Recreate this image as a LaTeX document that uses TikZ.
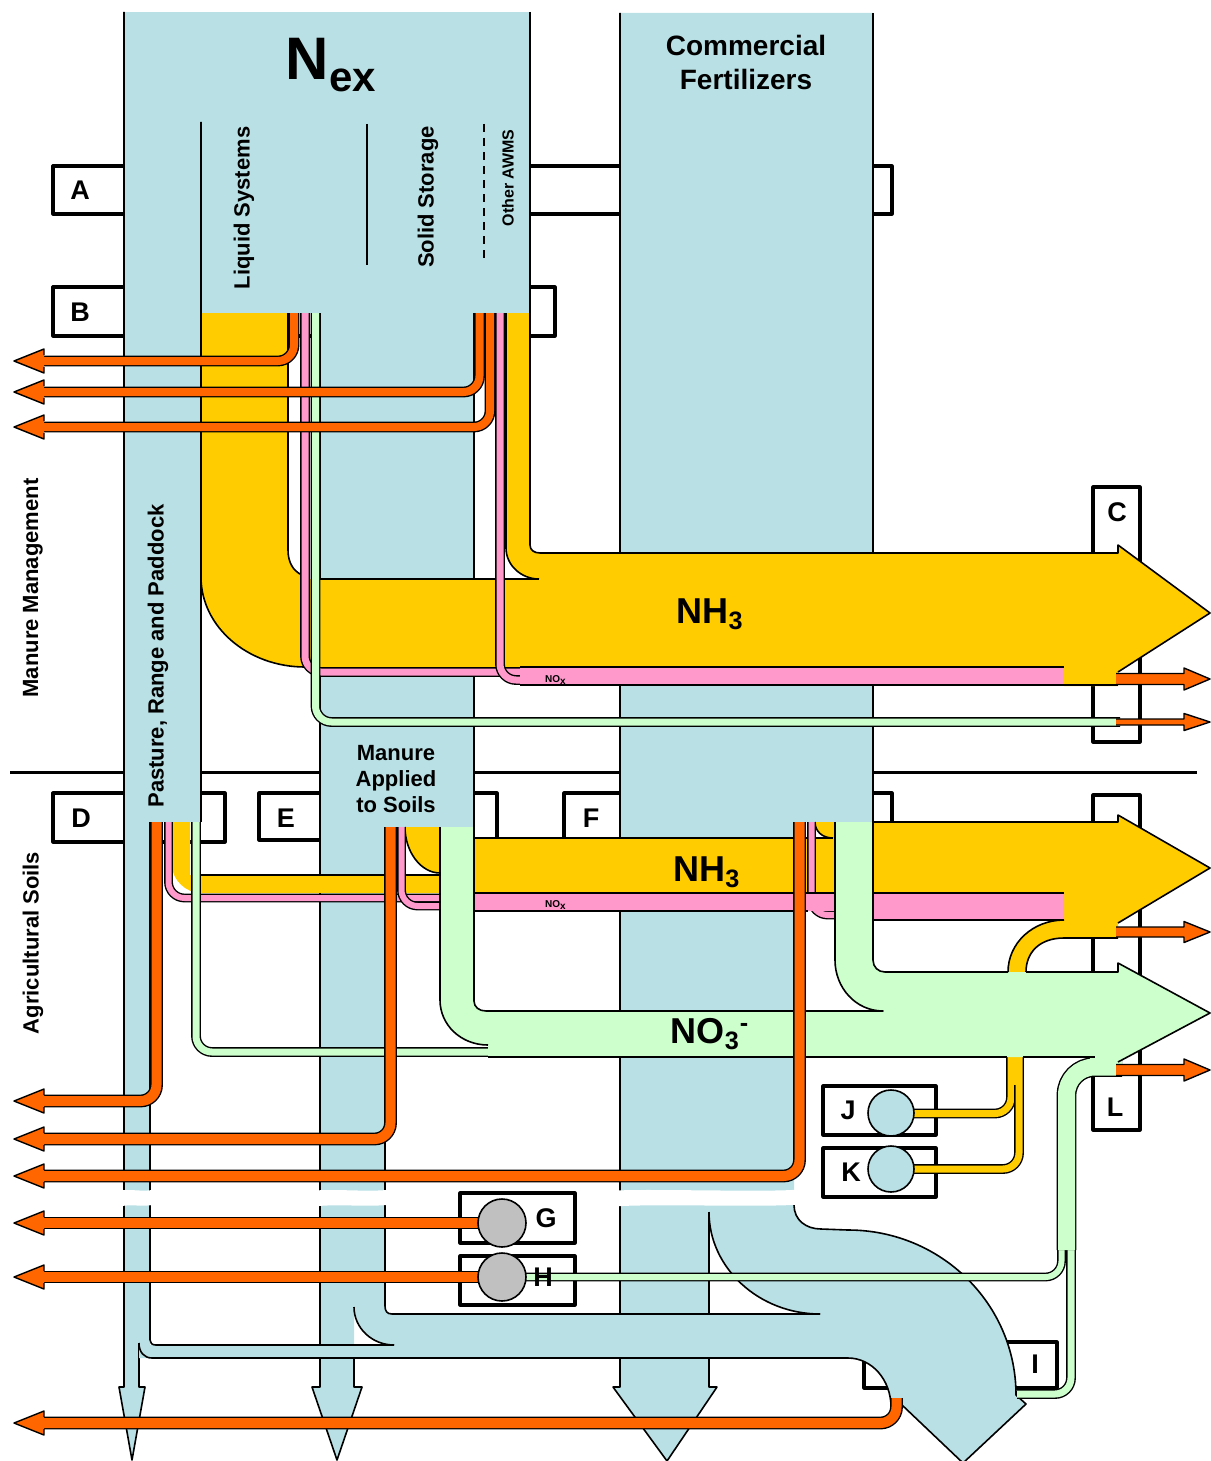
\documentclass[tikz,border=0pt]{standalone}
\usepackage{fontspec}
\setmainfont{Liberation Sans}
\definecolor{poolblue}{RGB}{185,224,228}
\definecolor{nhyellow}{RGB}{255,204,0}
\definecolor{lossorange}{RGB}{255,102,0}
\definecolor{noxpink}{RGB}{255,153,204}
\definecolor{nogreen}{RGB}{204,255,204}
\definecolor{valvegray}{RGB}{192,192,192}
\tikzset{
  tagbox/.style={draw=black, line width=1.6pt, fill=white},
  rim/.style={draw=black, line width=0.8pt},
  pipe/.style={draw=black, line width=0.7pt, double=#1, rounded corners=8pt},
  tagtext/.style={font=\fontsize{13.5pt}{15pt}\selectfont\bfseries},
  sidetext/.style={rotate=90, font=\fontsize{11pt}{13pt}\selectfont\bfseries},
  tiptext/.style={font=\fontsize{5pt}{6pt}\selectfont\bfseries},
  gasname/.style={font=\fontsize{18pt}{20pt}\selectfont\bfseries},
  headl/.style={fill=lossorange, draw=black, line width=0.7pt},
}
\begin{document}
\begin{tikzpicture}[x=0.5pt, y=-0.5pt, line join=round]
    \useasboundingbox (0,0) rectangle (1210,1461);
    \draw[line width=1.5pt] (10,772) -- (1197,772);

    \draw[tagbox] (53,166) rectangle (892,214);
    \draw[tagbox] (53,287) rectangle (555,336);
    \draw[tagbox] (1093,487) rectangle (1140,742);
    \draw[tagbox] (53,793) rectangle (225,842);
    \draw[tagbox] (259,793) rectangle (497,840);
    \draw[tagbox] (564,793) rectangle (892,839);
    \draw[tagbox] (1093,795) rectangle (1140,1130);
    \draw[tagbox] (864,1342) rectangle (1057,1388);
    \draw[tagbox] (460,1193) rectangle (575,1243);
    \draw[tagbox] (460,1256) rectangle (575,1305);
    \draw[tagbox] (823,1086) rectangle (936,1135);
    \draw[tagbox] (823,1148) rectangle (936,1197);

    \fill[poolblue] (124,12) rectangle (530,313);
    \fill[poolblue] (124,313) rectangle (201,822);
    \fill[poolblue] (124,822) -- (150,822) -- (150,1345) -- (139,1345) -- (139,1387) -- (145,1387) -- (132,1460) -- (119,1387) -- (124,1387) -- cycle;
    \fill[poolblue] (320,313) rectangle (474,827);
    \fill[poolblue] (320,827) -- (385,827) -- (385,1314) -- (354,1314) -- (354,1387) -- (362,1387) -- (337,1460) -- (312,1387) -- (320,1387) -- cycle;
    \fill[poolblue] (620,13) -- (873,13) -- (873,822) -- (794,822) -- (794,1205) -- (709,1205) -- (709,1387) -- (717,1387) -- (667,1461) -- (613,1387) -- (620,1387) -- cycle;

    \draw[rim] (124,12) -- (124,1387) -- (119,1387) -- (132,1460) -- (145,1387) -- (139,1387) -- (139,1343);
    \draw[rim] (201,122) -- (201,822);
    \draw[rim] (530,12) -- (530,313);
    \draw[rim] (150,822) -- (150,1340);
    \draw[rim] (320,313) -- (320,1387) -- (312,1387) -- (337,1460) -- (362,1387) -- (354,1387) -- (354,1358);
    \draw[rim] (474,313) -- (474,827);
    \draw[rim] (385,827) -- (385,1306);
    \draw[rim] (620,13) -- (620,1387) -- (613,1387) -- (667,1461) -- (717,1387) -- (709,1387) -- (709,1358);
    \draw[rim] (709,1212) -- (709,1314);
    \draw[rim] (873,13) -- (873,822);
    \draw[rim] (367,124) -- (367,265);
    \draw[rim, dash pattern=on 4pt off 3pt] (484,124) -- (484,262);

    \fill[poolblue] (139,1345) -- (394,1345) .. controls (372,1345) and (354,1328) .. (354,1307) -- (354,1300) -- (385,1300) -- (385,1306) .. controls (385,1311) and (387,1314) .. (392,1314) -- (820,1314) .. controls (759,1314) and (709,1268) .. (709,1212) -- (709,1205) -- (794,1205) .. controls (794,1220) and (806,1229) .. (821,1229) -- (848,1230) .. controls (941,1230) and (1016,1304) .. (1016,1395) -- (1026,1404) -- (963,1463) -- (902,1405) -- (891,1407) .. controls (891,1380) and (872,1358) .. (848,1358) -- (139,1358) -- cycle;
    \draw[rim] (150,1340) .. controls (150,1343) and (152,1345) .. (156,1345) -- (394,1345);
    \draw[rim] (354,1307) .. controls (354,1328) and (372,1345) .. (394,1345);
    \draw[rim] (385,1300) -- (385,1306) .. controls (385,1311) and (387,1314) .. (392,1314) -- (820,1314);
    \draw[rim] (709,1212) .. controls (709,1268) and (759,1314) .. (820,1314);
    \draw[rim] (794,1205) .. controls (794,1220) and (806,1229) .. (821,1229) -- (848,1230) .. controls (941,1230) and (1016,1304) .. (1016,1395) -- (1026,1404) -- (963,1463) -- (902,1405);
    \draw[rim] (891,1407) .. controls (891,1380) and (872,1358) .. (848,1358) -- (152,1358) .. controls (144,1358) and (139,1352) .. (139,1343);

    \foreach \a/\b in {117/157, 313/392, 613/801}
        \fill[white] (\a,1191) .. controls (\a+15,1188) and (\b-15,1193) .. (\b,1189) -- (\b,1204) .. controls (\b-15,1208) and (\a+15,1203) .. (\a,1207) -- cycle;

    \fill[nhyellow] (201,313) -- (288,313) -- (288,550) .. controls (288,562) and (293,571) .. (302,575) -- (302,579) -- (539,579) .. controls (521,579) and (506,565) .. (506,548) -- (506,313) -- (530,313) -- (530,545) .. controls (530,550) and (534,553) .. (540,553) -- (1118,553) -- (1118,545) -- (1210,613) -- (1118,672) -- (1118,686) -- (1064,686) -- (1064,667) -- (305,667) .. controls (248,667) and (201,627) .. (201,577) -- cycle;
    \draw[rim] (201,122) -- (201,577) .. controls (201,627) and (248,667) .. (305,667);
    \draw[rim] (288,313) -- (288,550) .. controls (288,562) and (293,571) .. (302,575);
    \draw[rim] (320,579) -- (539,579);
    \draw[rim] (506,313) -- (506,548) .. controls (506,565) and (521,579) .. (539,579);
    \draw[rim] (530,313) -- (530,545) .. controls (530,550) and (534,553) .. (540,553) -- (1118,553) -- (1118,545) -- (1210,613) -- (1118,672);

    \draw[pipe=noxpink, double distance=3.5pt] (305,313) -- (305,672) -- (530,672);
    \draw[pipe=noxpink, double distance=3.5pt] (500,313) -- (500,680) -- (530,680);
    \fill[noxpink] (520,667) rectangle (1064,685);
    \draw[rim] (520,667) -- (1064,667);
    \draw[rim] (520,685) -- (1118,685);
    \draw[pipe=nogreen, double distance=3.5pt] (315.5,313) -- (315.5,722) -- (1120,722);

    \draw[pipe=lossorange, double distance=4pt] (294,313) -- (294,361) -- (44,361);
    \draw[pipe=lossorange, double distance=4pt] (479.5,313) -- (479.5,392) -- (44,392);
    \draw[pipe=lossorange, double distance=4pt] (490,313) -- (490,427) -- (44,427);

    \fill[nhyellow] (172,822) -- (190,822) -- (190,875) -- (440,875) -- (440,873) .. controls (421,873) and (405,852) .. (405,827) -- (440,827) -- (440,838) -- (833,838) .. controls (822,838) and (815,831) .. (815,822) -- (1118,822) -- (1118,815) -- (1210,868) -- (1118,923) -- (1118,938) -- (1064,938) .. controls (1040,938) and (1026,952) .. (1026,975) -- (1008,975) .. controls (1008,943) and (1033,920) .. (1064,920) -- (1064,893) -- (201,893) .. controls (186,893) and (172,880) .. (172,865) -- cycle;
    \draw[rim] (201,875) -- (440,875);
    \draw[rim] (405,827) .. controls (405,852) and (421,873) .. (440,873);
    \draw[rim] (474,838) -- (833,838);
    \draw[rim] (815,822) .. controls (815,831) and (822,838) .. (833,838);
    \draw[rim] (873,822) -- (1118,822) -- (1118,815) -- (1210,868) -- (1118,923);
    \draw[rim] (1064,920) .. controls (1033,920) and (1008,943) .. (1008,972);
    \draw[rim] (1026,972) .. controls (1026,952) and (1040,938) .. (1064,938) -- (1118,938);

    \draw[pipe=noxpink, double distance=3pt] (168.5,822) -- (168.5,898) -- (460,898);
    \draw[pipe=noxpink, double distance=3pt] (401.5,827) -- (401.5,906) -- (460,906);
    \draw[pipe=noxpink, double distance=3pt] (811.5,822) -- (811.5,915) -- (860,915);
    \fill[noxpink] (440,893) -- (1064,893) -- (1064,920) -- (850,920) -- (850,911) -- (440,911) -- cycle;
    \draw[rim] (440,893) -- (1064,893);
    \draw[rim] (440,911) -- (808,911);
    \draw[rim] (850,920) -- (1064,920);

    \draw[pipe=nhyellow, double distance=3.5pt] (900,1113.5) -- (1011,1113.5) -- (1011,1052);
    \draw[pipe=nhyellow, double distance=3.5pt] (900,1169) -- (1019,1169) -- (1019,1052);
    \fill[nhyellow] (1008.5,1052) rectangle (1021.5,1085);

    \draw[pipe=nogreen, double distance=3.5pt] (1017,1394) -- (1071,1394) -- (1071,1248);
    \draw[pipe=nogreen, double distance=3pt] (520,1277) -- (1061.5,1277) -- (1061.5,1248);
    \draw[pipe=nogreen, double distance=8.5pt, rounded corners=14pt] (1066.5,1250) -- (1066.5,1067) -- (1122,1067);
    \draw[pipe=nogreen, double distance=3.5pt] (196,822) -- (196,1052) -- (495,1052);

    \fill[nogreen] (440,827) -- (474,827) -- (474,1001) .. controls (474,1007) and (479,1011) .. (486,1011) -- (883,1011) .. controls (856,1011) and (835,988) .. (835,960) -- (835,822) -- (873,822) -- (873,960) .. controls (873,967) and (878,972) .. (885,972) -- (1118,972) -- (1118,963) -- (1210,1013) -- (1118,1062) -- (1118,1066) -- (1090,1066) -- (1090,1057) -- (488,1057) -- (488,1045) .. controls (461,1045) and (440,1025) .. (440,1000) -- cycle;
    \draw[rim] (440,827) -- (440,1000) .. controls (440,1025) and (461,1045) .. (488,1045);
    \draw[rim] (474,827) -- (474,1001) .. controls (474,1007) and (479,1011) .. (486,1011) -- (883,1011) .. controls (856,1011) and (835,988) .. (835,960) -- (835,822);
    \draw[rim] (873,822) -- (873,960) .. controls (873,967) and (878,972) .. (885,972) -- (1008,972);
    \draw[rim] (1026,972) -- (1118,972) -- (1118,963) -- (1210,1013) -- (1118,1062);
    \draw[rim] (488,1057) -- (1007,1057);
    \draw[rim] (1023,1057) -- (1095,1057);

    \draw[pipe=lossorange, double distance=5pt] (156.5,822) -- (156.5,1101) -- (44,1101);
    \draw[pipe=lossorange, double distance=5pt] (390.5,827) -- (390.5,1139) -- (44,1139);
    \draw[pipe=lossorange, double distance=5pt] (799.5,822) -- (799.5,1176) -- (44,1176);
    \draw[pipe=lossorange, double distance=5pt] (490,1223) -- (44,1223);
    \draw[pipe=lossorange, double distance=5pt] (490,1277) -- (44,1277);
    \draw[pipe=lossorange, double distance=5pt] (896.5,1398) -- (896.5,1423) -- (44,1423);

    \foreach \y in {361,392,427,1101,1139,1176,1223,1277,1423}
        \filldraw[headl] (44,\y-6) -- (44,\y-12) -- (14,\y) -- (44,\y+12) -- (44,\y+6);
    \foreach \y/\h in {679/5.5,722/3,932/5,1070/5.5}
        \filldraw[headl] (1116,\y-\h) -- (1184,\y-\h) -- (1184,\y-\h-5.5) -- (1210,\y) -- (1184,\y+\h+5.5) -- (1184,\y+\h) -- (1116,\y+\h);

    \filldraw[fill=valvegray, rim] (502,1223) circle [radius=12pt];
    \filldraw[fill=valvegray, rim] (502,1277) circle [radius=12pt];
    \filldraw[fill=poolblue, rim] (891,1113) circle [radius=11.5pt];
    \filldraw[fill=poolblue, rim] (891,1169) circle [radius=11.5pt];

    \node[font=\fontsize{30pt}{31pt}\selectfont\bfseries] (nex) at (331,65) {N\raisebox{-6pt}{\fontsize{21pt}{22pt}\selectfont ex}};
    \node[align=center, font=\fontsize{14pt}{17pt}\selectfont\bfseries] (fert) at (746,62) {Commercial\\Fertilizers};
    \node[sidetext] (liquid) at (244,208) {Liquid Systems};
    \node[sidetext] (solid) at (428,197) {Solid Storage};
    \node[sidetext, font=\fontsize{8pt}{9pt}\selectfont\bfseries] (awms) at (508,178) {Other AWMS};
    \node[sidetext] (prp) at (158,656) {Pasture, Range and Paddock};
    \node[sidetext] (mgmt) at (33,588) {Manure Management};
    \node[sidetext] (soils) at (33,943) {Agricultural Soils};
    \node[align=center, font=\fontsize{11pt}{13pt}\selectfont\bfseries] (applied) at (396,779) {Manure\\Applied\\to Soils};
    \node[gasname] (nhtop) at (710,614) {NH\textsubscript{3}};
    \node[gasname] (nhlow) at (707,872) {NH\textsubscript{3}};
    \node[gasname] (nolow) at (710,1034) {NO\textsubscript{3}\textsuperscript{-}};
    \node[tiptext] (noxtop) at (556,680) {NO\textsubscript{x}};
    \node[tiptext] (noxlow) at (556,905) {NO\textsubscript{x}};

    \node[tagtext] (tagA) at (80,190) {A};
    \node[tagtext] (tagB) at (80,312) {B};
    \node[tagtext] (tagC) at (1117,512) {C};
    \node[tagtext] (tagD) at (81,818) {D};
    \node[tagtext] (tagE) at (286,818) {E};
    \node[tagtext] (tagF) at (591,818) {F};
    \node[tagtext] (tagG) at (546,1218) {G};
    \node[tagtext] (tagH) at (543,1277) {H};
    \node[tagtext] (tagI) at (1035,1364) {I};
    \node[tagtext] (tagJ) at (848,1110) {J};
    \node[tagtext] (tagK) at (851,1172) {K};
    \node[tagtext] (tagL) at (1115,1107) {L};
\end{tikzpicture}
\end{document}
